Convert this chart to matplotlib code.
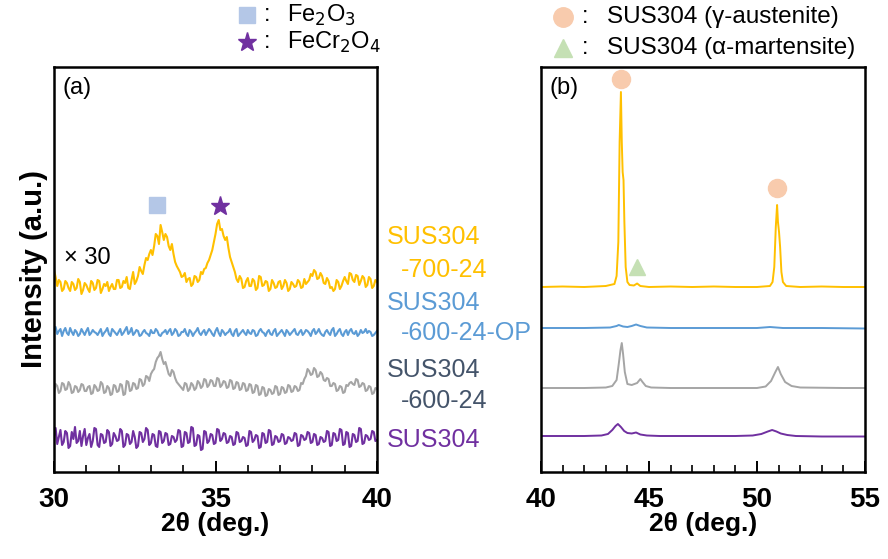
import numpy as np
import matplotlib
matplotlib.use("Agg")
import matplotlib.pyplot as plt
from matplotlib.ticker import MultipleLocator

# ---- panel (a): 30-40 deg, step 0.05 (x30 scaled, offset traces) ----
two_theta_a = np.linspace(30.0, 40.0, 201)

a_700_24 = [202, 195, 186, 192, 190, 181, 183, 191, 189, 184, 181, 190, 188, 182, 184, 193, 190, 178, 182, 189,
            187, 183, 180, 191, 189, 182, 184, 192, 191, 179, 183, 188, 186, 190, 181, 185, 188, 183, 183, 192,
            192, 184, 185, 191, 189, 195, 184, 183, 192, 200, 188, 191, 196, 205, 201, 198, 207, 214, 212, 218,
            222, 217, 226, 238, 236, 228, 247, 240, 232, 238, 235, 226, 222, 228, 218, 210, 206, 203, 200, 195,
            196, 199, 190, 193, 194, 186, 188, 196, 195, 190, 192, 200, 198, 203, 204, 209, 212, 217, 222, 230,
            238, 248, 252, 242, 243, 236, 232, 235, 224, 215, 210, 205, 200, 193, 190, 196, 193, 184, 185, 191,
            194, 186, 186, 193, 191, 182, 184, 196, 195, 186, 187, 191, 190, 181, 183, 192, 189, 184, 185, 190,
            191, 183, 186, 192, 189, 181, 183, 190, 188, 185, 186, 192, 190, 184, 185, 193, 188, 190, 192, 198,
            196, 202, 200, 193, 194, 199, 196, 189, 188, 194, 191, 184, 185, 181, 183, 192, 190, 183, 186, 191,
            195, 191, 188, 199, 198, 192, 190, 197, 196, 187, 191, 196, 194, 185, 187, 195, 193, 184, 186, 192,
            190]
a_600_24_op = [142, 145, 138, 141, 143, 136, 141, 144, 139, 137, 144, 140, 137, 142, 140, 136, 138, 143, 140, 137,
               141, 144, 137, 139, 142, 140, 139, 137, 140, 143, 136, 139, 141, 144, 138, 136, 143, 141, 139, 137,
               140, 143, 137, 139, 142, 145, 138, 140, 144, 137, 139, 142, 141, 136, 137, 140, 142, 139, 138, 136,
               142, 139, 139, 143, 141, 137, 136, 139, 140, 142, 138, 141, 143, 137, 139, 143, 141, 136, 137, 140,
               140, 143, 138, 136, 142, 140, 136, 139, 141, 144, 139, 137, 140, 142, 137, 140, 143, 141, 138, 136,
               141, 144, 139, 136, 142, 140, 137, 139, 140, 143, 138, 136, 141, 143, 136, 138, 140, 142, 139, 137,
               142, 139, 138, 142, 141, 136, 137, 141, 143, 140, 139, 136, 140, 142, 138, 137, 141, 143, 136, 138,
               140, 142, 139, 136, 142, 140, 137, 139, 141, 143, 138, 137, 140, 142, 137, 139, 142, 141, 139, 136,
               141, 143, 138, 140, 143, 139, 137, 136, 140, 142, 139, 137, 142, 144, 136, 138, 141, 143, 138, 136,
               140, 142, 137, 141, 143, 139, 138, 141, 136, 138, 142, 139, 140, 143, 139, 141, 140, 136, 137, 139,
               141]
a_600_24 = [80, 88, 86, 79, 81, 89, 88, 82, 83, 90, 87, 79, 80, 86, 85, 80, 82, 88, 87, 81,
            81, 85, 86, 78, 79, 87, 85, 81, 82, 90, 88, 79, 80, 86, 84, 77, 78, 87, 86, 80,
            81, 88, 87, 77, 78, 91, 90, 81, 82, 89, 88, 83, 84, 93, 92, 86, 88, 96, 95, 91,
            98, 101, 103, 110, 114, 116, 120, 113, 108, 110, 104, 98, 96, 102, 100, 94, 90, 88, 86, 84,
            82, 89, 88, 81, 83, 89, 87, 82, 84, 91, 89, 84, 86, 93, 92, 85, 87, 92, 91, 86,
            86, 94, 93, 85, 87, 91, 90, 84, 85, 92, 91, 83, 84, 90, 89, 82, 83, 89, 88, 81,
            82, 88, 87, 79, 80, 87, 86, 77, 78, 85, 84, 76, 77, 83, 82, 78, 79, 86, 85, 77,
            78, 85, 84, 79, 80, 87, 86, 80, 81, 86, 85, 81, 82, 89, 88, 93, 96, 103, 101, 97,
            98, 104, 102, 95, 96, 100, 98, 92, 91, 94, 93, 86, 86, 89, 88, 81, 82, 86, 85, 79,
            80, 87, 86, 89, 90, 88, 87, 93, 92, 85, 86, 89, 88, 81, 82, 86, 85, 78, 79, 84,
            83]
a_sus304 = [36, 44, 28, 35, 42, 27, 30, 41, 39, 24, 26, 40, 33, 45, 29, 31, 41, 26, 36, 43,
            27, 34, 38, 25, 31, 44, 43, 27, 25, 38, 37, 29, 30, 42, 40, 26, 28, 39, 36, 31,
            32, 43, 41, 25, 27, 38, 37, 28, 30, 41, 35, 24, 26, 40, 39, 30, 33, 44, 42, 27,
            29, 38, 37, 26, 25, 41, 40, 29, 31, 39, 38, 27, 28, 36, 35, 30, 32, 42, 41, 25,
            26, 40, 39, 29, 30, 45, 44, 26, 27, 37, 36, 22, 23, 41, 40, 29, 31, 38, 37, 28,
            29, 43, 42, 31, 33, 39, 38, 29, 30, 36, 35, 27, 28, 40, 39, 30, 31, 35, 34, 26,
            27, 41, 40, 30, 32, 37, 36, 24, 25, 39, 38, 29, 30, 42, 41, 27, 28, 36, 35, 30,
            31, 38, 37, 28, 29, 35, 34, 31, 32, 39, 38, 26, 27, 37, 36, 32, 33, 40, 39, 29,
            30, 38, 37, 27, 28, 35, 34, 30, 31, 41, 40, 26, 27, 39, 38, 31, 32, 43, 42, 27,
            28, 40, 39, 25, 26, 38, 37, 30, 31, 44, 43, 28, 29, 37, 36, 32, 33, 41, 40, 31,
            32]

# ---- panel (b): 40-55 deg ----
b_700_24_x = [40, 41, 42, 43, 43.4, 43.5, 43.58, 43.64, 43.7, 43.74, 43.78, 43.82,
              43.86, 43.92, 44.0, 44.1, 44.3, 44.45, 44.6, 45, 46, 47, 48, 49, 50,
              50.6, 50.72, 50.8, 50.87, 50.93, 50.97, 51.02, 51.07, 51.13, 51.2,
              51.35, 52, 53, 54, 55]
b_700_24 = [185, 185.5, 185, 186, 188, 196, 230, 330, 380, 330, 300, 292,
            250, 205, 190, 187, 186.5, 188.5, 186, 185, 185.5, 185, 185.5, 185, 185,
            186, 190, 205, 245, 267, 250, 240, 225, 200, 190,
            186, 185, 185.5, 185, 185]
b_600_24_op_x = [40, 42, 43.2, 43.5, 43.6, 43.8, 44.0, 44.2, 44.4, 44.6, 44.9,
                 46, 48, 50, 50.6, 51.2, 53, 55]
b_600_24_op = [144, 144, 144.5, 146, 147, 145.5, 145, 146, 147.5, 146, 144.5,
               144, 144, 144, 145, 144, 144, 143.5]
b_600_24_x = [40, 42, 43, 43.3, 43.5, 43.6, 43.68, 43.74, 43.8, 43.88, 44.0, 44.2,
              44.45, 44.6, 44.7, 44.85, 45.1, 46, 48, 50, 50.4, 50.65, 50.85,
              50.97, 51.1, 51.3, 51.6, 52, 54, 55]
b_600_24 = [84, 84, 84.5, 86, 92, 108, 122, 129, 118, 100, 88, 87,
            89, 93, 90, 86, 84.5, 84, 84, 84, 85.5, 91, 100,
            105, 98, 90, 86, 84.5, 84, 84]
b_sus304_x = [40, 42, 42.8, 43.1, 43.3, 43.45, 43.56, 43.7, 43.85, 44.0, 44.2,
              44.4, 44.6, 44.9, 45.5, 47, 49, 49.8, 50.2, 50.5, 50.7, 50.9,
              51.1, 51.4, 51.8, 53, 55]
b_sus304 = [36, 36, 36.5, 38, 42, 46, 48, 45, 41, 39, 38.5,
            39.5, 37.5, 36.5, 36, 36, 36, 36.5, 38, 40.5, 42, 40.5,
            38.5, 37, 36, 35.5, 35.5]

sample_labels = [("SUS304", "-700-24"), ("SUS304", "-600-24-OP"),
                 ("SUS304", "-600-24"), ("SUS304", "")]
line_colors = ["#FFC000", "#5B9BD5", "#A5A5A5", "#7030A0"]
label_colors = ["#FFC000", "#5B9BD5", "#44546A", "#7030A0"]

plt.rcParams['font.family'] = ['Liberation Sans', 'DejaVu Sans']

fig = plt.figure(figsize=(8.88, 5.59), dpi=100)
W, H = 888, 559
def box(l, t, r, b):
    return [l / W, 1 - b / H, (r - l) / W, (b - t) / H]

ax_a = fig.add_axes(box(54, 67, 377, 472))
ax_b = fig.add_axes(box(541, 67, 865, 472))

for y, c in zip([a_700_24, a_600_24_op, a_600_24, a_sus304], line_colors):
    ax_a.plot(two_theta_a, y, color=c, lw=1.5)
for x, y, c in zip([b_700_24_x, b_600_24_op_x, b_600_24_x, b_sus304_x],
                   [b_700_24, b_600_24_op, b_600_24, b_sus304], line_colors):
    ax_b.plot(x, y, color=c, lw=1.4)

ax_a.set_xlim(30, 40)
ax_b.set_xlim(40, 55)
for ax in (ax_a, ax_b):
    ax.set_ylim(0, 405)
    ax.set_yticks([])
    ax.xaxis.set_major_locator(MultipleLocator(5))
    ax.xaxis.set_minor_locator(MultipleLocator(1))
    ax.tick_params(axis='x', which='major', direction='in', length=8, width=1.4, pad=11)
    ax.tick_params(axis='x', which='minor', direction='in', length=5, width=1.2)
    for s in ax.spines.values():
        s.set_linewidth(1.8)
    for lab in ax.get_xticklabels():
        lab.set_fontweight('bold')
        lab.set_fontsize(20)
    ax.set_xlabel("2θ (deg.)", fontsize=19, fontweight='bold', labelpad=-1)

ax_a.set_ylabel("Intensity (a.u.)", fontsize=21, fontweight='bold', labelpad=4)

# panel tags and markers
ax_a.text(0.025, 0.975, "(a)", transform=ax_a.transAxes, fontsize=17, va='top')
ax_b.text(0.025, 0.975, "(b)", transform=ax_b.transAxes, fontsize=17, va='top')
ax_a.text(30.3, 214, "× 30", fontsize=17, va='center')

ax_a.plot([33.2], [267], 's', color="#B4C7E7", ms=11, clip_on=False)
ax_a.plot([35.15], [266], '*', color="#7030A0", ms=14, clip_on=False)
ax_b.plot([43.7, 50.93], [393, 284], 'o', color="#F8CBAD", ms=13, clip_on=False)
ax_b.plot([44.44], [205], '^', color="#C5E0B4", ms=12, clip_on=False)

# top legends
tf = fig.transFigure
ax_a.plot([247 / W], [1 - 15 / H], 's', color="#B4C7E7", ms=11, transform=tf, clip_on=False)
ax_a.plot([247 / W], [1 - 42 / H], '*', color="#7030A0", ms=14, transform=tf, clip_on=False)
ax_b.plot([563 / W], [1 - 17 / H], 'o', color="#F8CBAD", ms=14, transform=tf, clip_on=False)
ax_b.plot([563 / W], [1 - 48 / H], '^', color="#C5E0B4", ms=13, transform=tf, clip_on=False)
for xc, yc in [(267, 15), (267, 42), (585, 17), (585, 48)]:
    fig.text(xc / W, 1 - yc / H, ":", fontsize=17, ha='center', va='center')
fig.text(287 / W, 1 - 15 / H, "Fe$_2$O$_3$", fontsize=17, va='center')
fig.text(287 / W, 1 - 42 / H, "FeCr$_2$O$_4$", fontsize=17, va='center')
fig.text(607 / W, 1 - 17 / H, "SUS304 (γ-austenite)", fontsize=17.5, va='center')
fig.text(607 / W, 1 - 48 / H, "SUS304 (α-martensite)", fontsize=17.5, va='center')

# sample labels between panels
label_rows = [(237, 270), (303, 333), (370, 401), (440, None)]
for (l1, l2), c, (y1, y2) in zip(sample_labels, label_colors, label_rows):
    fig.text(387 / W, 1 - y1 / H, l1, color=c, fontsize=18, va='center')
    if l2:
        fig.text(401 / W, 1 - y2 / H, l2, color=c, fontsize=18, va='center')

fig.savefig("out.png", dpi=100)
